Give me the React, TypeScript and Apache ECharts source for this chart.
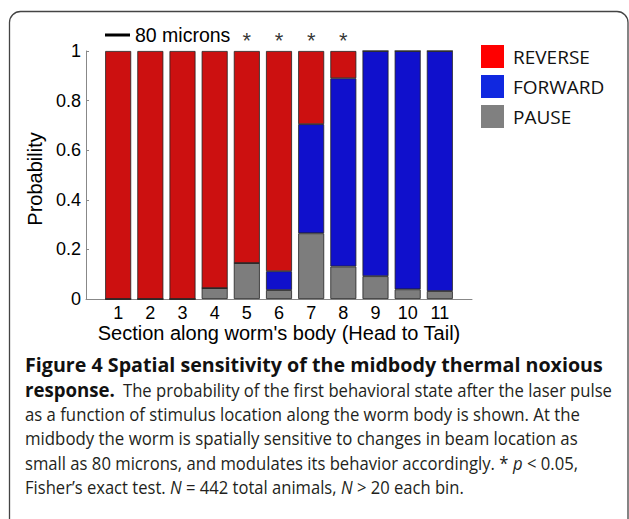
import React, { useEffect, useRef } from "react";
import * as echarts from "echarts";

const sections = ["1", "2", "3", "4", "5", "6", "7", "8", "9", "10", "11"];
const reverse = [1, 1, 1, 0.956, 0.855, 0.888, 0.295, 0.11, 0, 0, 0];
const forward = [0, 0, 0, 0, 0, 0.076, 0.44, 0.759, 0.908, 0.961, 0.968];
const pause = [0, 0, 0, 0.044, 0.145, 0.036, 0.265, 0.131, 0.092, 0.039, 0.032];
const significant = ["5", "6", "7", "8"];
const yTicks = [0, 0.2, 0.4, 0.6, 0.8, 1];

type Seg = [string, string]; // [style, text]  style: r | b | i
const captionLines: Seg[][] = [
  [["b", "Figure 4 Spatial sensitivity of the midbody thermal noxious"]],
  [["b", "response."]],
  [["r", "The probability of the first behavioral state after the laser pulse"]],
  [["r", "as a function of stimulus location along the worm body is shown. At the"]],
  [["r", "midbody the worm is spatially sensitive to changes in beam location as"]],
  [["r", "small as 80 microns, and modulates its behavior accordingly. * "], ["i", "p"], ["r", " < 0.05,"]],
  [["r", "Fisher’s exact test. "], ["i", "N"], ["r", " = 442 total animals, "], ["i", "N"], ["r", " > 20 each bin."]],
];
// layout of caption pieces: [x, y, target width]
const captionLayout: [number, number, number][] = [
  [25, 365, 578],
  [25, 390, 90],
  [123, 390, 489],
  [25, 414, 555],
  [25, 438, 553],
  [25, 463, 553],
  [25, 487, 439],
];

const pad = (arr: (number | null)[]) => [null, ...arr, null];

export default function App() {
  const ref = useRef<HTMLDivElement>(null);
  useEffect(() => {
    if (!ref.current) return;
    const chart = echarts.init(ref.current, null, { renderer: "svg" });
    const axisFont = "Liberation Sans, Arial, sans-serif";
    const capFont = "Open Sans, sans-serif";
    const regSize = 19;
    const boldSize = 19;
    const fontOf = (s: string) =>
      s === "b"
        ? `bold ${boldSize}px ${capFont}`
        : s === "i"
        ? `italic ${regSize}px ${capFont}`
        : `${regSize}px ${capFont}`;
    const canvas = document.createElement("canvas");
    const ctx = canvas.getContext("2d")!;
    const measure = (segs: Seg[]) =>
      segs.reduce((w, [s, t]) => {
        ctx.font = fontOf(s);
        return w + ctx.measureText(t).width;
      }, 0);

    const captionGraphics = captionLines.map((segs, i) => {
      const [x, y, target] = captionLayout[i];
      const w = measure(segs);
      const sx = w > 0 ? target / w : 1;
      return {
        type: "text",
        x,
        y,
        scaleX: sx,
        style: {
          text: segs.map(([s, t]) => `{${s}|${t}}`).join(""),
          verticalAlign: "middle",
          rich: {
            r: { fontFamily: capFont, fontSize: regSize, fill: "#231f20" },
            b: { fontFamily: capFont, fontSize: boldSize, fontWeight: "bold", fill: "#111" },
            i: { fontFamily: capFont, fontSize: regSize, fontStyle: "italic", fill: "#231f20" },
          },
        },
        silent: true,
      };
    });

    const barBorder = { borderColor: "#222", borderWidth: 0.8 };
    chart.setOption({
      animation: false,
      backgroundColor: "#fff",
      grid: { left: 86, right: 157, top: 51, bottom: 220, containLabel: false },
      legend: {
        orient: "vertical",
        left: 481,
        top: 45,
        padding: 0,
        itemWidth: 23,
        itemHeight: 23,
        itemGap: 7,
        icon: "rect",
        textStyle: { fontFamily: capFont, fontSize: 19, color: "#111", padding: [0, 0, 0, 4] },
        data: [
          { name: "REVERSE", itemStyle: { color: "#ff0000", borderWidth: 0 } },
          { name: "FORWARD", itemStyle: { color: "#1028e0", borderWidth: 0 } },
          { name: "PAUSE", itemStyle: { color: "#808080", borderWidth: 0 } },
        ],
      },
      xAxis: {
        type: "category",
        data: ["", ...sections, ""],
        boundaryGap: false,
        axisLine: { lineStyle: { color: "#888", width: 1 } },
        axisTick: { show: false },
        axisLabel: { fontFamily: axisFont, fontSize: 18, color: "#000", margin: 5, interval: 0 },
        name: "Section along worm's body (Head to Tail)",
        nameLocation: "middle",
        nameGap: 23,
        nameTextStyle: { fontFamily: axisFont, fontSize: 20, color: "#000" },
        splitLine: { show: false },
      },
      yAxis: {
        type: "value",
        min: yTicks[0],
        max: yTicks[yTicks.length - 1],
        interval: 0.2,
        axisLine: { show: true, lineStyle: { color: "#888", width: 1 } },
        axisTick: { show: true, inside: true, length: 3, lineStyle: { color: "#888" } },
        axisLabel: { fontFamily: axisFont, fontSize: 18, color: "#000", margin: 5 },
        splitLine: { show: false },
        name: "Probability",
        nameLocation: "middle",
        nameGap: 32,
        nameRotate: 90,
        nameTextStyle: { fontFamily: axisFont, fontSize: 20, color: "#000", padding: [0, 8, 0, 0] },
      },
      series: [
        {
          name: "PAUSE",
          type: "bar",
          stack: "s",
          barWidth: 26,
          itemStyle: { color: "#7d7d7d", ...barBorder },
          data: pad(pause),
        },
        {
          name: "FORWARD",
          type: "bar",
          stack: "s",
          barWidth: 26,
          itemStyle: { color: "#1010cc", ...barBorder },
          data: pad(forward),
        },
        {
          name: "REVERSE",
          type: "bar",
          stack: "s",
          barWidth: 26,
          itemStyle: { color: "#cc1010", ...barBorder },
          data: pad(reverse),
        },
        {
          name: "sig",
          type: "scatter",
          symbol: "circle",
          symbolSize: 1,
          itemStyle: { color: "rgba(0,0,0,0)" },
          data: significant.map((s) => [s, 1]),
          label: {
            show: true,
            position: "top",
            distance: -1,
            formatter: "*",
            fontFamily: axisFont,
            fontSize: 22,
            color: "#000",
          },
          silent: true,
          z: 5,
        },
      ],
      graphic: [
        {
          type: "rect",
          shape: { x: 9.5, y: 11.5, width: 618.5, height: 540, r: 11 },
          style: { fill: "none", stroke: "#444", lineWidth: 1.3 },
          silent: true,
        },
        {
          type: "line",
          shape: { x1: 105, y1: 35, x2: 130, y2: 35 },
          style: { stroke: "#000", lineWidth: 3 },
        },
        {
          type: "text",
          x: 135,
          y: 35,
          style: {
            text: "80 microns",
            fontFamily: axisFont,
            fontSize: 19.5,
            fill: "#000",
            verticalAlign: "middle",
          },
        },
        ...captionGraphics,
      ],
    });
    return () => chart.dispose();
  }, []);
  return (
    <div
      ref={ref}
      style={{ position: "fixed", left: 0, top: 0, width: 629, height: 519, background: "#fff" }}
    />
  );
}
